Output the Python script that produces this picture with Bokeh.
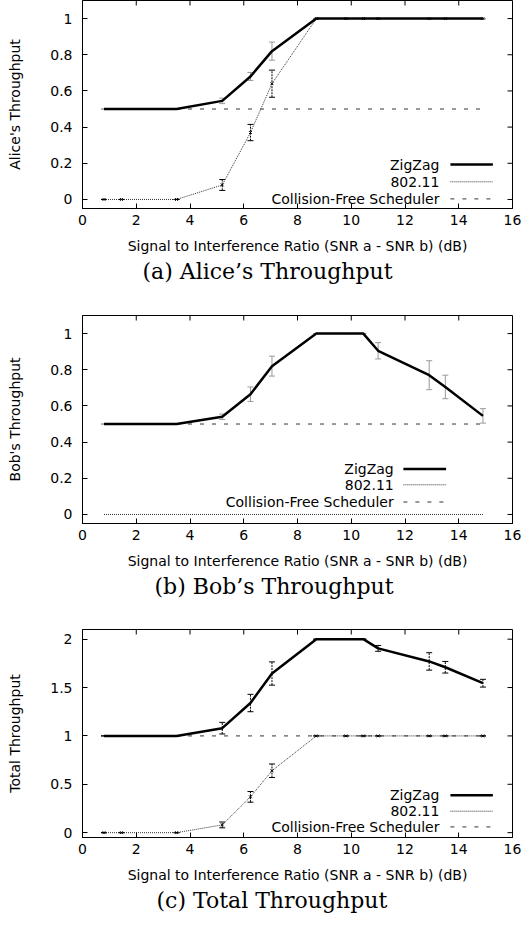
from bokeh.plotting import figure
from bokeh.layouts import column
from bokeh.models import Range1d, FixedTicker, Whisker, TeeHead, ColumnDataSource, Title
from bokeh.core.properties import value
from bokeh.embed import file_html
from bokeh.resources import INLINE

# ---------------- data ----------------
SNR = [0.8, 1.45, 3.5, 5.2, 6.25, 7.05, 8.7, 9.8, 10.45, 11.0, 12.9, 13.5, 14.9]

ALICE_ZIGZAG = [0.5, 0.5, 0.5, 0.545, 0.68, 0.82, 1.0, 1.0, 1.0, 1.0, 1.0, 1.0, 1.0]
ALICE_ZIGZAG_ERR = [0, 0, 0, 0.015, 0.022, 0.05, 0, 0, 0, 0, 0, 0, 0]
ALICE_80211 = [0.0, 0.0, 0.0, 0.08, 0.37, 0.64, 1.0, 1.0, 1.0, 1.0, 1.0, 1.0, 1.0]
ALICE_80211_ERR = [0, 0, 0, 0.03, 0.045, 0.075, 0, 0, 0, 0, 0, 0, 0]
ALICE_CF = [0.5, 0.5, 0.5, 0.5, 0.5, 0.5, 0.5, 0.5, 0.5, 0.5, 0.5, 0.5, 0.5]

BOB_ZIGZAG = [0.5, 0.5, 0.5, 0.54, 0.665, 0.82, 1.0, 1.0, 1.0, 0.905, 0.77, 0.705, 0.545]
BOB_ZIGZAG_ERR = [0, 0, 0, 0.015, 0.04, 0.055, 0, 0, 0, 0.045, 0.08, 0.065, 0.04]
BOB_80211 = [0.0, 0.0, 0.0, 0.0, 0.0, 0.0, 0.0, 0.0, 0.0, 0.0, 0.0, 0.0, 0.0]
BOB_CF = [0.5, 0.5, 0.5, 0.5, 0.5, 0.5, 0.5, 0.5, 0.5, 0.5, 0.5, 0.5, 0.5]

TOTAL_ZIGZAG = [1.0, 1.0, 1.0, 1.08, 1.34, 1.645, 2.0, 2.0, 2.0, 1.905, 1.77, 1.71, 1.545]
TOTAL_ZIGZAG_ERR = [0, 0, 0, 0.06, 0.09, 0.12, 0, 0, 0, 0.03, 0.09, 0.06, 0.04]
TOTAL_80211 = [0.0, 0.0, 0.0, 0.08, 0.37, 0.64, 1.0, 1.0, 1.0, 1.0, 1.0, 1.0, 1.0]
TOTAL_80211_ERR = [0, 0, 0, 0.03, 0.055, 0.07, 0, 0, 0, 0, 0, 0, 0]
TOTAL_CF = [1.0, 1.0, 1.0, 1.0, 1.0, 1.0, 1.0, 1.0, 1.0, 1.0, 1.0, 1.0, 1.0]

SERIES_NAMES = ["ZigZag", "802.11", "Collision-Free Scheduler"]
X_LABEL = "Signal to Interference Ratio (SNR a - SNR b) (dB)"
X_TICKS = [0, 2, 4, 6, 8, 10, 12, 14, 16]
Y_TICKS_UNIT = [0, 0.2, 0.4, 0.6, 0.8, 1]
Y_LABELS_UNIT = ["0", "0.2", "0.4", "0.6", "0.8", "1"]
Y_TICKS_TOTAL = [0, 0.5, 1, 1.5, 2]
Y_LABELS_TOTAL = ["0", "0.5", "1", "1.5", "2"]

# ---------------- style ----------------
SANS = "DejaVu Sans"
SERIF = "DejaVu Serif"
FS = "14px"
FRAME_W, FRAME_H = 430, 208
X_RANGE = (0, 16)
TICK_PX = 5


def add_errors(p, x, y, err, color, dash):
    src = ColumnDataSource(dict(x=x, lo=[a - e for a, e in zip(y, err)], hi=[a + e for a, e in zip(y, err)]))
    w = Whisker(source=src, base="x", lower="lo", upper="hi", dimension="height",
                line_color=color, line_width=1, line_dash=dash,
                lower_head=TeeHead(size=6, line_color=color, line_width=1),
                upper_head=TeeHead(size=6, line_color=color, line_width=1))
    p.add_layout(w)


def make_panel(ylabel, yr, yticks, ylabels, zz, zz_err, w, w_err, cf, caption, cap_offset,
               zz_err_color, zz_err_dash, leg_text_x, leg_x0, leg_x1, leg_rows_px,
               top, bottom):
    p = figure(frame_width=FRAME_W, frame_height=FRAME_H,
               x_range=Range1d(*X_RANGE), y_range=Range1d(*yr),
               output_backend="svg", toolbar_location=None,
               min_border_left=82, min_border_right=9,
               min_border_top=top, min_border_bottom=bottom,
               x_axis_label=X_LABEL, y_axis_label=ylabel)
    p.xgrid.visible = False
    p.ygrid.visible = False
    p.outline_line_color = "black"
    p.outline_line_alpha = 1
    p.outline_line_width = 1

    xa = p.below[0]
    xa.ticker = FixedTicker(ticks=X_TICKS)
    ya = p.left[0]
    ya.ticker = FixedTicker(ticks=yticks)
    ya.major_label_overrides = dict(zip(yticks, ylabels))
    for ax in (xa, ya):
        ax.major_tick_in = TICK_PX
        ax.major_tick_out = 0
        ax.minor_tick_line_color = None
        ax.axis_line_color = "black"
        ax.major_tick_line_color = "black"
        ax.major_label_text_font = SANS
        ax.major_label_text_font_size = FS
        ax.major_label_text_color = "black"
        ax.axis_label_text_font = SANS
        ax.axis_label_text_font_size = FS
        ax.axis_label_text_font_style = "normal"
        ax.axis_label_text_color = "black"
    xa.major_label_standoff = 6
    xa.axis_label_standoff = 10
    ya.major_label_standoff = 10
    ya.axis_label_standoff = 24

    # mirrored inward ticks on the top and right borders
    ppu_x = FRAME_W / (X_RANGE[1] - X_RANGE[0])
    ppu_y = FRAME_H / (yr[1] - yr[0])
    p.segment(x0=X_TICKS, x1=X_TICKS, y0=[yr[1]] * len(X_TICKS),
              y1=[yr[1] - TICK_PX / ppu_y] * len(X_TICKS), line_color="black", line_width=1)
    p.segment(x0=[X_RANGE[1]] * len(yticks), x1=[X_RANGE[1] - TICK_PX / ppu_x] * len(yticks),
              y0=yticks, y1=yticks, line_color="black", line_width=1)

    # series
    p.line(SNR, cf, line_color="#333333", line_width=1, line_dash="4 8")
    p.line(SNR, w, line_color="#333333", line_width=1, line_dash="1 1")
    if w_err is not None:
        add_errors(p, SNR, w, w_err, "black", "2 1")
        p.scatter(SNR, w, marker="x", size=4, line_color="black", line_width=1)
    p.line(SNR, zz, line_color="black", line_width=2.5)
    add_errors(p, SNR, zz, zz_err, zz_err_color, zz_err_dash)

    # legend (drawn right-aligned like the original)
    rows = [yr[0] + r / ppu_y for r in leg_rows_px]
    p.text(x=[leg_text_x] * 3, y=rows, text=SERIES_NAMES, text_align="right",
           text_baseline="middle", text_font=value(SANS), text_font_size=FS,
           text_color="black")
    p.segment(x0=[leg_x0], y0=[rows[0]], x1=[leg_x1], y1=[rows[0]], line_color="black", line_width=2.5)
    p.segment(x0=[leg_x0], y0=[rows[1]], x1=[leg_x1], y1=[rows[1]], line_color="#333333", line_width=1, line_dash="1 1")
    p.segment(x0=[leg_x0], y0=[rows[2]], x1=[leg_x1], y1=[rows[2]], line_color="#333333", line_width=1, line_dash="4 8")

    t = Title(text=caption, align="left", offset=cap_offset, text_font=SERIF, text_font_size="22px",
              text_font_style="normal", text_color="black", standoff=0)
    p.add_layout(t, "below")
    return p


p1 = make_panel("Alice's Throughput", (-0.05, 1.1), Y_TICKS_UNIT, Y_LABELS_UNIT,
                ALICE_ZIGZAG, ALICE_ZIGZAG_ERR, ALICE_80211, ALICE_80211_ERR, ALICE_CF,
                "(a) Alice\u2019s Throughput", 60, "#999999", "solid",
                13.28, 13.69, 15.27, [44, 26.7, 9.6], 0, 80)
p2 = make_panel("Bob's Throughput", (-0.05, 1.1), Y_TICKS_UNIT, Y_LABELS_UNIT,
                BOB_ZIGZAG, BOB_ZIGZAG_ERR, BOB_80211, None, BOB_CF,
                "(b) Bob\u2019s Throughput", 72, "#999999", "solid",
                11.58, 11.94, 13.53, [54.4, 38.7, 21.5], 27, 80)
p3 = make_panel("Total Throughput", (-0.05, 2.1), Y_TICKS_TOTAL, Y_LABELS_TOTAL,
                TOTAL_ZIGZAG, TOTAL_ZIGZAG_ERR, TOTAL_80211, TOTAL_80211_ERR, TOTAL_CF,
                "(c) Total Throughput", 74, "black", "2 1",
                13.28, 13.69, 15.27, [42.3, 26.3, 10.6], 26, 80)

layout = column(p1, p2, p3, spacing=0)
open("out.html", "w").write(file_html(layout, INLINE, title="ZigZag throughput"))
